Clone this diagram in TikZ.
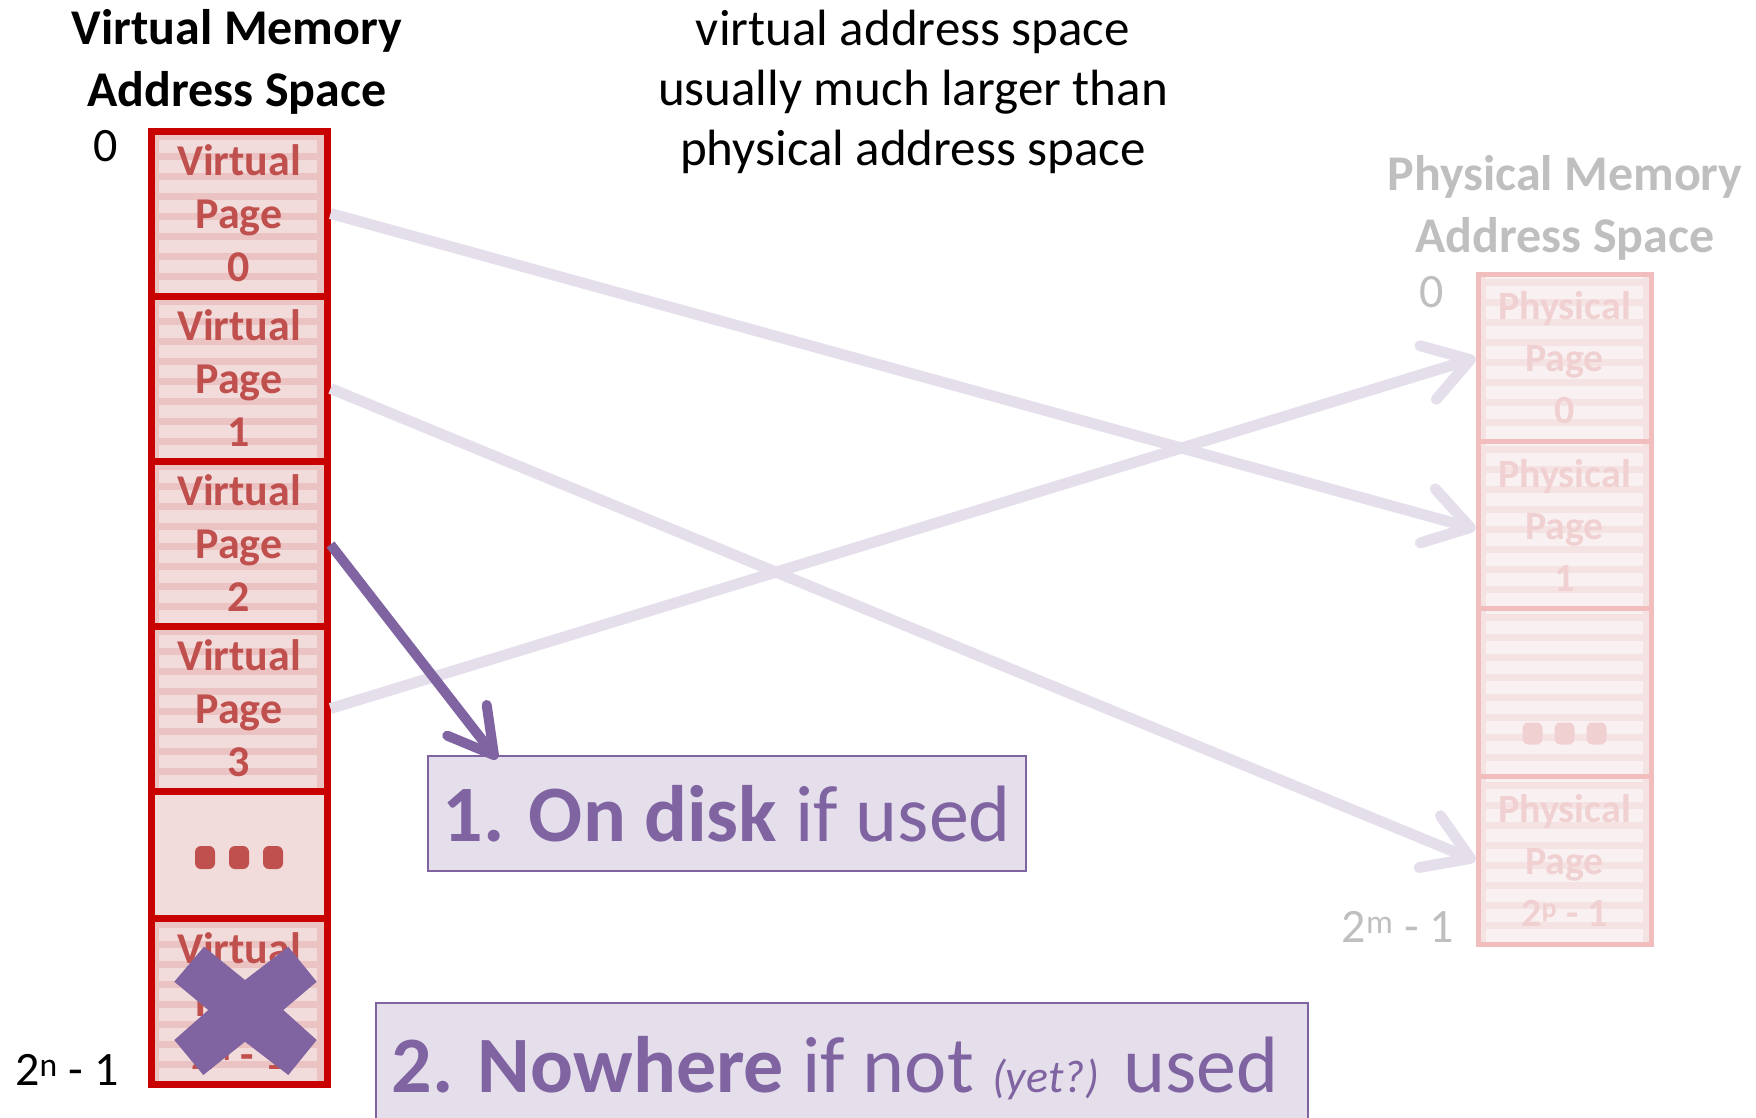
\documentclass[tikz,border=0pt]{standalone}
\usepackage{fontspec}
\setmainfont{Carlito}
\usetikzlibrary{arrows.meta}
\definecolor{vred}{HTML}{C80000}
\definecolor{vtext}{HTML}{C0504D}
\definecolor{vlight}{HTML}{F2DCDB}
\definecolor{vdark}{HTML}{EAC3C2}
\definecolor{pborder}{HTML}{F2BDBD}
\definecolor{plight}{HTML}{F9F1F1}
\definecolor{pdark}{HTML}{F5E3E3}
\definecolor{ptext}{HTML}{F0D0D0}
\definecolor{purp}{HTML}{8064A2}
\definecolor{lav}{HTML}{E5DFEC}
\definecolor{lgray}{HTML}{BFBFBF}
\begin{document}
\begin{tikzpicture}[x=1pt,y=-1pt,
  vbase/.style={draw=vred, line width=7pt, fill=vlight, minimum width=176pt,
    minimum height=165pt, inner sep=0pt, text=vtext,
    font=\fontsize{44}{53}\selectfont\bfseries, align=center},
  vpage/.style={vbase, fill=vdark, path picture={
    \foreach \yy in {3,23,...,183}
      \fill[vlight] ([xshift=8pt,yshift=\yy pt]path picture bounding box.south west) rectangle ++(158pt,13pt);}},
  pbase/.style={draw=pborder, line width=5pt, fill=plight, minimum width=173pt,
    minimum height=168pt, inner sep=0pt, text=ptext,
    font=\fontsize{40}{52}\selectfont\bfseries, align=center},
  ppage/.style={pbase, fill=pdark, path picture={
    \foreach \yy in {3,23,...,183}
      \fill[plight] ([xshift=8pt,yshift=\yy pt]path picture bounding box.south west) rectangle ++(157pt,13pt);}},
  lbl/.style={font=\fontsize{48}{60}\selectfont, inner sep=0pt},
  pbox/.style={draw=purp, line width=2pt, fill=lav, text=purp, inner sep=0pt,
    font=\fontsize{80}{90}\selectfont},
  light/.style={draw=lav, line width=11pt,
    -{Straight Barb[length=44pt,width=56pt,line cap=round,line join=round]}},
  dark/.style={draw=purp, line width=10pt,
    -{Straight Barb[length=44pt,width=50pt,line cap=round,line join=round]}}
]
\useasboundingbox (0,0) rectangle (1756,1117);
\clip (0,0) rectangle (1756,1117);

% titles and labels
\node[font=\fontsize{50}{62}\selectfont\bfseries, align=center] (vtitle) at (237,62) {Virtual Memory\\Address Space};
\node[font=\fontsize{51}{60}\selectfont, align=center] (note) at (913,92) {virtual address space\\usually much larger than\\physical address space};
\node[font=\fontsize{50}{62}\selectfont\bfseries, align=center, text=lgray] (ptitle) at (1565,208) {Physical Memory\\Address Space};
\node[lbl] (v0) at (106,146) {0};
\node[lbl] (vn) at (67,1070) {2\textsuperscript{n} - 1};
\node[lbl, text=lgray] (p0) at (1432,292) {0};
\node[lbl, text=lgray] (pm) at (1398,927) {2\textsuperscript{m} - 1};

% virtual pages
\node[vpage] (vp0) at (239,213.5) {Virtual\\Page\\0};
\node[vpage] (vp1) at (239,378.5) {Virtual\\Page\\1};
\node[vpage] (vp2) at (239,543.5) {Virtual\\Page\\2};
\node[vpage] (vp3) at (239,708.5) {Virtual\\Page\\3};
\node[vbase, minimum height=127pt] (vpdots) at (239,854.5) {};
\node[vpage, minimum height=166pt] (vpn) at (239,1001) {Virtual\\Page\\2\textsuperscript{n} - 1};
\foreach \dx in {-34,0,34}
  \fill[vtext, rounded corners=6pt] ([xshift=\dx pt]vpdots.center) ++(-10,-8.5) rectangle ++(20,23);

% physical pages
\node[ppage] (pp0) at (1564.5,358) {Physical\\Page\\0};
\node[ppage] (pp1) at (1564.5,525) {Physical\\Page\\1};
\node[ppage, minimum height=169pt] (ppdots) at (1564.5,692.5) {};
\node[ppage] (ppn) at (1564.5,860.5) {Physical\\Page\\2\textsuperscript{p} - 1};
\foreach \dx in {-32,0,32}
  \fill[ptext, rounded corners=6pt] ([xshift=\dx pt]ppdots.center) ++(-10,30) rectangle ++(20,22);

% purple boxes
\node[pbox, minimum width=598pt, minimum height=115pt, anchor=north west] (box1) at (427,755) {\textbf{1. On disk} if used};
\node[pbox, minimum width=932pt, minimum height=130pt, anchor=north west] (box2) at (375,1002) {\textbf{2. Nowhere} if not {\fontsize{46}{50}\selectfont\itshape (yet?)} used\hspace*{14pt}};

% connectors
\draw[light] (vp0.east) -- ([yshift=-4pt]pp1.west);
\draw[light] ([yshift=-10pt]vp1.east) -- (ppn.west);
\draw[light] (vp3.east) -- (pp0.west);
\draw[dark] ([yshift=-1pt]vp2.east) -- ([xshift=70pt,yshift=-4pt]box1.north west);

% cross
\fill[purp] (174.3,981.7) -- (204,946.7) -- (245,980) -- (288.3,946.7) -- (316.7,981.7)
  -- (283.3,1010) -- (316.7,1040) -- (288.3,1075) -- (245,1041.7) -- (203.3,1075)
  -- (174.3,1040) -- (208.3,1010) -- cycle;
\end{tikzpicture}
\end{document}
